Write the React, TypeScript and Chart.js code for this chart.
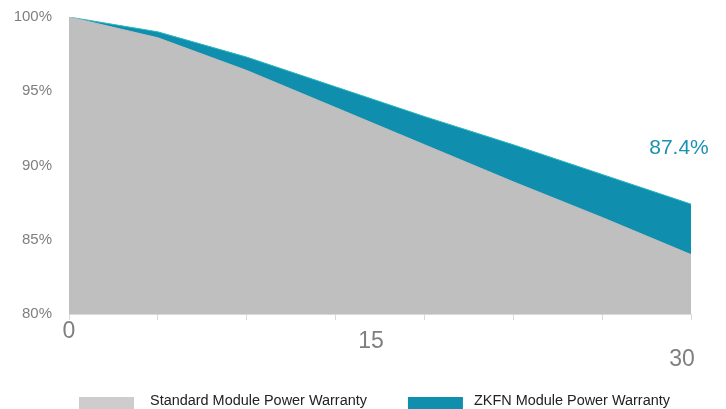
import { useEffect, useRef } from 'react';
import { Chart, registerables } from 'chart.js';

Chart.register(...registerables);

const categories = ['0', '1', '2', '3', '4', '5', '6', '7'];
const standardValues = [100, 98.6, 96.4, 93.9, 91.4, 88.9, 86.5, 84.0];
const zkfnValues = [100, 99.0, 97.3, 95.3, 93.3, 91.4, 89.4, 87.4];
const yTicks = [80, 85, 90, 95, 100];
const xAxisLabels = ['0', '15', '30'];
const seriesNames = ['Standard Module Power Warranty', 'ZKFN Module Power Warranty'];

const GRAY = '#BFBFBF';
const LEGEND_GRAY = '#CECCCD';
const TEAL = '#0F8EAE';
const TEAL_EDGE = '#2DB8C2';
const LABEL_TEAL = '#1B91B1';
const AXIS_TEXT = '#7F7F7F';

// style: where the three year labels sit (category index, distance below axis)
const xLabelPlacement = [
  { at: 0, dy: 18 },
  { at: 3.4, dy: 28 },
  { at: 6.9, dy: 46 },
];

const xLabelsPlugin = {
  id: 'xLabels',
  afterDraw(chart: any) {
    const { ctx, scales, chartArea } = chart;
    ctx.save();
    ctx.font = '23px "Liberation Sans", Arial, sans-serif';
    ctx.fillStyle = AXIS_TEXT;
    ctx.textAlign = 'center';
    ctx.textBaseline = 'middle';
    xAxisLabels.forEach((t, i) => {
      const p = xLabelPlacement[i];
      ctx.fillText(t, scales.x.getPixelForValue(p.at), chartArea.bottom + p.dy);
    });
    ctx.restore();
  },
};

const endLabelPlugin = {
  id: 'endLabel',
  afterDraw(chart: any) {
    const { ctx } = chart;
    const meta = chart.getDatasetMeta(1);
    const pt = meta.data[meta.data.length - 1];
    ctx.save();
    ctx.font = '21px "Liberation Sans", Arial, sans-serif';
    ctx.fillStyle = LABEL_TEAL;
    ctx.textAlign = 'center';
    ctx.textBaseline = 'middle';
    ctx.fillText(`${zkfnValues[zkfnValues.length - 1]}%`, pt.x - 12, pt.y - 56);
    ctx.restore();
  },
};

const legendPlugin = {
  id: 'customLegend',
  afterDraw(chart: any) {
    const { ctx, chartArea } = chart;
    const colors = [LEGEND_GRAY, TEAL];
    const textGaps = [16, 11];
    ctx.save();
    ctx.font = '14.45px "Liberation Sans", Arial, sans-serif';
    ctx.textBaseline = 'middle';
    ctx.textAlign = 'left';
    let x = chartArea.left + 10;
    const y = chartArea.bottom + 83;
    seriesNames.forEach((name, i) => {
      ctx.fillStyle = colors[i];
      ctx.fillRect(x, y, 55, 12);
      ctx.fillStyle = '#222222';
      const tx = x + 55 + textGaps[i];
      ctx.fillText(name, tx, y + 4.5);
      x = tx + ctx.measureText(name).width + 41;
    });
    ctx.restore();
  },
};

export default function App() {
  const ref = useRef<HTMLCanvasElement | null>(null);
  useEffect(() => {
    if (!ref.current) return;
    const chart = new Chart(ref.current, {
      type: 'line',
      data: {
        labels: categories,
        datasets: [
          {
            label: seriesNames[0],
            data: standardValues,
            backgroundColor: GRAY,
            borderColor: GRAY,
            borderWidth: 1,
            fill: 'start',
            pointRadius: 0,
            tension: 0,
          },
          {
            label: seriesNames[1],
            data: zkfnValues,
            backgroundColor: TEAL,
            borderColor: TEAL_EDGE,
            borderWidth: 1,
            fill: 'start',
            pointRadius: 0,
            tension: 0,
          },
        ],
      },
      options: {
        animation: false,
        responsive: true,
        maintainAspectRatio: false,
        layout: { padding: { left: 0, right: 27, top: 9, bottom: 0 } },
        plugins: {
          legend: { display: false },
          tooltip: { enabled: false },
        },
        scales: {
          x: {
            type: 'category',
            offset: false,
            grid: {
              display: true,
              drawOnChartArea: false,
              drawTicks: true,
              tickLength: 6,
              color: '#D9D9D9',
            },
            border: { display: true, color: '#D9D9D9', width: 1 },
            ticks: { display: false },
            afterFit: (s: any) => {
              s.height = 95;
              s.paddingLeft = 0;
              s.paddingRight = 0;
            },
          },
          y: {
            min: 80,
            max: 100,
            afterBuildTicks: (s: any) => {
              s.ticks = yTicks.map((v) => ({ value: v }));
            },
            grid: { display: false, drawTicks: false },
            border: { display: true, color: '#D9D9D9', width: 1 },
            ticks: {
              padding: 17,
              color: AXIS_TEXT,
              font: { family: '"Liberation Sans", Arial, sans-serif', size: 15 },
              callback: (v: any) => `${v}%`,
            },
            afterFit: (s: any) => {
              s.width = 61;
              s.paddingTop = 0;
              s.paddingBottom = 0;
            },
          },
        },
      },
      plugins: [xLabelsPlugin, endLabelPlugin, legendPlugin],
    });
    return () => chart.destroy();
  }, []);
  return (
    <div style={{ width: 710, height: 401, position: 'relative' }}>
      <canvas ref={ref} />
    </div>
  );
}
